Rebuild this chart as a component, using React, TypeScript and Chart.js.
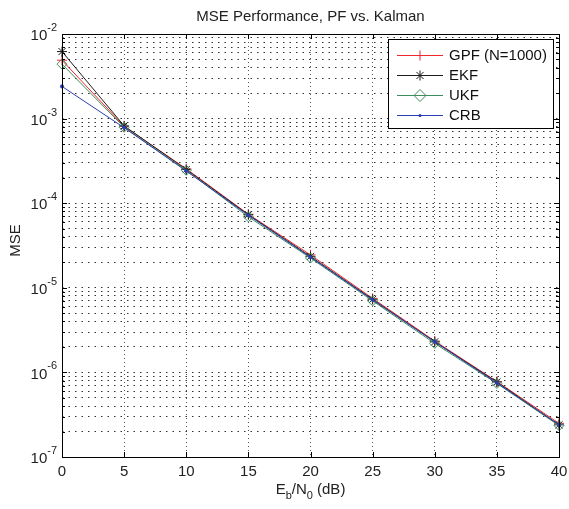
import React, { useEffect, useRef } from "react";
import { Chart, registerables } from "chart.js";

Chart.register(...registerables);

const ebn0 = [0, 5, 10, 15, 20, 25, 30, 35, 40];
const gpf = [4.9e-3, 8.1e-4, 2.55e-4, 7.4e-5, 2.45e-5, 7.5e-6, 2.35e-6, 7.8e-7, 2.5e-7];
const ekf = [6.2e-3, 8.2e-4, 2.5e-4, 7.3e-5, 2.35e-5, 7.3e-6, 2.3e-6, 7.7e-7, 2.4e-7];
const ukf = [4.4e-3, 7.9e-4, 2.45e-4, 6.9e-5, 2.25e-5, 7.0e-6, 2.2e-6, 7.4e-7, 2.35e-7];
const crb = [2.4e-3, 7.8e-4, 2.4e-4, 7.2e-5, 2.3e-5, 7.2e-6, 2.3e-6, 7.5e-7, 2.4e-7];
const decades = [-7, -6, -5, -4, -3, -2];
const xTicks = [0, 5, 10, 15, 20, 25, 30, 35, 40];
const seriesNames = ["GPF (N=1000)", "EKF", "UKF", "CRB"];

const FONT = "'Liberation Sans', Arial, Helvetica, sans-serif";
const RED = "#f0262c";
const BLACK = "#1c1c1c";
const GREEN = "#3a8c5c";
const BLUE = "#2c3fae";

function drawMarker(ctx: CanvasRenderingContext2D, style: string, x: number, y: number, color: string) {
  ctx.save();
  ctx.strokeStyle = color;
  ctx.fillStyle = color;
  ctx.lineWidth = 1;
  ctx.beginPath();
  if (style === "cross") {
    ctx.moveTo(x - 5, y); ctx.lineTo(x + 5, y);
    ctx.moveTo(x, y - 5); ctx.lineTo(x, y + 5);
    ctx.stroke();
  } else if (style === "star") {
    for (let i = 0; i < 4; i++) {
      const a = (i * Math.PI) / 4;
      ctx.moveTo(x - 5 * Math.cos(a), y - 5 * Math.sin(a));
      ctx.lineTo(x + 5 * Math.cos(a), y + 5 * Math.sin(a));
    }
    ctx.stroke();
  } else if (style === "diamond") {
    ctx.moveTo(x, y - 6); ctx.lineTo(x + 6, y); ctx.lineTo(x, y + 6); ctx.lineTo(x - 6, y); ctx.closePath();
    ctx.stroke();
  } else {
    ctx.arc(x, y, 1.6, 0, Math.PI * 2);
    ctx.fill();
  }
  ctx.restore();
}

const decorPlugin = {
  id: "decor",
  afterDraw(chart: any) {
    const { ctx, chartArea: a, scales } = chart;
    const xs = scales.x;
    const ys = scales.y;
    ctx.save();
    // box
    ctx.strokeStyle = "#000";
    ctx.lineWidth = 1;
    ctx.strokeRect(Math.round(a.left) + 0.5, Math.round(a.top) + 0.5, Math.round(a.right - a.left), Math.round(a.bottom - a.top));
    // inward ticks
    ctx.beginPath();
    xTicks.forEach((v) => {
      const px = Math.round(xs.getPixelForValue(v)) + 0.5;
      ctx.moveTo(px, a.bottom); ctx.lineTo(px, a.bottom - 5);
      ctx.moveTo(px, a.top); ctx.lineTo(px, a.top + 5);
    });
    decades.forEach((e) => {
      for (let m = 1; m <= 9; m++) {
        const v = m * Math.pow(10, e);
        if (v > 1.0001e-2) continue;
        const py = Math.round(ys.getPixelForValue(v)) + 0.5;
        const len = m === 1 ? 5 : 3;
        ctx.moveTo(a.left, py); ctx.lineTo(a.left + len, py);
        ctx.moveTo(a.right, py); ctx.lineTo(a.right - len, py);
      }
    });
    ctx.stroke();

    ctx.fillStyle = "#222";
    // x tick labels
    ctx.font = `15px ${FONT}`;
    ctx.textAlign = "center";
    ctx.textBaseline = "middle";
    xTicks.forEach((v) => {
      ctx.fillText(String(v), xs.getPixelForValue(v), a.bottom + 15);
    });
    // y tick labels
    decades.forEach((e) => {
      const py = ys.getPixelForValue(Math.pow(10, e));
      const sup = String(e);
      ctx.font = `11px ${FONT}`;
      const sw = ctx.measureText(sup).width;
      ctx.textAlign = "left";
      ctx.textBaseline = "middle";
      const right = a.left - 5;
      ctx.fillText(sup, right - sw, py - 6);
      ctx.font = `15px ${FONT}`;
      ctx.textAlign = "right";
      ctx.fillText("10", right - sw, py + 2);
    });
    // title
    ctx.font = `15px ${FONT}`;
    ctx.textAlign = "center";
    ctx.textBaseline = "middle";
    ctx.fillText("MSE Performance, PF vs. Kalman", (a.left + a.right) / 2, 17);
    // x title
    const cx = (a.left + a.right) / 2;
    const ty = a.bottom + 33;
    const parts: [string, boolean][] = [["E", false], ["b", true], ["/N", false], ["0", true], [" (dB)", false]];
    let total = 0;
    parts.forEach(([t, sub]) => {
      ctx.font = sub ? `11px ${FONT}` : `15px ${FONT}`;
      total += ctx.measureText(t).width;
    });
    let x = cx - total / 2;
    ctx.textAlign = "left";
    parts.forEach(([t, sub]) => {
      ctx.font = sub ? `11px ${FONT}` : `15px ${FONT}`;
      ctx.fillText(t, x, sub ? ty + 6 : ty);
      x += ctx.measureText(t).width;
    });
    // y title
    ctx.save();
    ctx.translate(16, (a.top + a.bottom) / 2 - 5);
    ctx.rotate(-Math.PI / 2);
    ctx.font = `15px ${FONT}`;
    ctx.textAlign = "center";
    ctx.textBaseline = "middle";
    ctx.fillText("MSE", 0, 0);
    ctx.restore();

    // legend
    const lx = 388, ly = 39, lw = 165, lh = 89;
    ctx.fillStyle = "#fff";
    ctx.fillRect(lx, ly, lw, lh);
    ctx.strokeStyle = "#000";
    ctx.lineWidth = 1;
    ctx.strokeRect(lx + 0.5, ly + 0.5, lw, lh);
    const colors = [RED, BLACK, GREEN, BLUE];
    const styles = ["cross", "star", "diamond", "dot"];
    seriesNames.forEach((name, i) => {
      const yy = 55 + i * 20;
      ctx.strokeStyle = colors[i];
      ctx.beginPath();
      ctx.moveTo(397, yy + 0.5); ctx.lineTo(443, yy + 0.5);
      ctx.stroke();
      drawMarker(ctx, styles[i], 420, yy + 0.5, colors[i]);
      ctx.fillStyle = "#111";
      ctx.font = `15px ${FONT}`;
      ctx.textAlign = "left";
      ctx.textBaseline = "middle";
      ctx.fillText(name, 449, yy + 1);
    });
    ctx.restore();
  },
};

export default function App() {
  const ref = useRef<HTMLCanvasElement>(null);
  useEffect(() => {
    document.body.style.margin = "0";
    const mk = (label: string, data: number[], color: string, pointStyle: any, radius: number, order: number, fill = false) => ({
      label,
      data: ebn0.map((x, i) => ({ x, y: data[i] })),
      borderColor: color,
      backgroundColor: fill ? color : "rgba(0,0,0,0)",
      pointBorderColor: color,
      pointBackgroundColor: fill ? color : "rgba(0,0,0,0)",
      borderWidth: 1,
      pointStyle,
      pointRadius: radius,
      pointBorderWidth: 1,
      order,
      clip: false,
    });
    const chart = new Chart(ref.current!, {
      type: "line",
      data: {
        datasets: [
          mk(seriesNames[0], gpf, RED, "cross", 5, 3),
          mk(seriesNames[1], ekf, BLACK, "star", 5, 2),
          mk(seriesNames[2], ukf, GREEN, "rectRot", 5, 1),
          mk(seriesNames[3], crb, BLUE, "circle", 1.6, 0, true),
        ],
      },
      options: {
        animation: false,
        responsive: false,
        maintainAspectRatio: false,
        layout: { padding: { left: 62, right: 10, top: 34, bottom: 52 } },
        plugins: { legend: { display: false }, title: { display: false }, tooltip: { enabled: false } },
        scales: {
          x: {
            type: "linear",
            min: 0,
            max: 40,
            ticks: { display: false, stepSize: 5 },
            afterBuildTicks: (s: any) => {
              s.ticks = xTicks.map((v) => ({ value: v }));
            },
            grid: { color: "#555", lineWidth: 1, drawTicks: false },
            border: { display: false, dash: [1, 3] },
          },
          y: {
            type: "logarithmic",
            min: 1e-7,
            max: 1e-2,
            ticks: { display: false },
            afterBuildTicks: (s: any) => {
              const t: any[] = [];
              decades.forEach((e) => {
                for (let m = 1; m <= 9; m++) {
                  const v = m * Math.pow(10, e);
                  if (v <= 1.0001e-2) t.push({ value: v });
                }
              });
              s.ticks = t;
            },
            grid: { color: "#333", lineWidth: 1, drawTicks: false },
            border: { display: false, dash: [1.5, 5] },
          },
        },
      },
      plugins: [decorPlugin],
    });
    return () => chart.destroy();
  }, []);
  return (
    <div style={{ width: 569, height: 509, background: "#fff" }}>
      <canvas ref={ref} width={569} height={509} style={{ display: "block" }} />
    </div>
  );
}
